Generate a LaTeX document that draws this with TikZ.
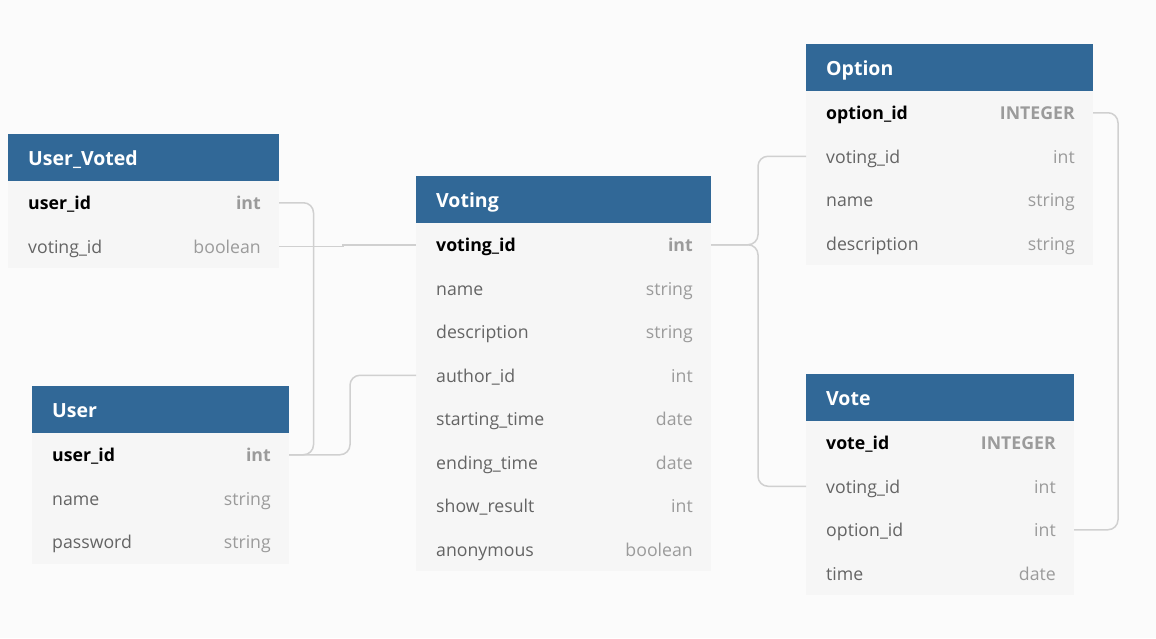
\documentclass[tikz,border=0pt]{standalone}
\usepackage{fontspec}
\setmainfont{Open Sans}
\usetikzlibrary{calc}
\definecolor{hdrblue}{RGB}{49,104,151}
\definecolor{rowbg}{RGB}{246,246,246}
\definecolor{canvas}{RGB}{251,251,251}
\definecolor{namegray}{RGB}{100,100,100}
\definecolor{typegray}{RGB}{155,155,155}
\definecolor{conngray}{RGB}{208,208,208}
\tikzset{
  hdrbox/.style={fill=hdrblue, minimum height=47pt, inner sep=0pt, outer sep=0pt},
  rowbox/.style={fill=rowbg, minimum height=43.5pt, inner sep=0pt, outer sep=0pt},
  hdrtext/.style={inner sep=0pt, text=white, font=\fontsize{19.5}{23}\selectfont\bfseries},
  pkname/.style={inner sep=0pt, text=black, font=\fontsize{17.7}{21}\selectfont\bfseries},
  pktype/.style={inner sep=0pt, text=typegray, font=\fontsize{17.7}{21}\selectfont\bfseries},
  fname/.style={inner sep=0pt, text=namegray, font=\fontsize{17.7}{21}\selectfont},
  ftype/.style={inner sep=0pt, text=typegray, font=\fontsize{17.7}{21}\selectfont},
  conn/.style={draw=conngray, line width=1.5pt, rounded corners=10pt}
}
\newcommand\ertable[5]{%
  \node[hdrbox, minimum width=#4pt, anchor=north west] (#1) at (#2,#3) {};
  \node[hdrtext, anchor=base west] (#1-title) at ($(#1.west)+(20,7.5)$) {#5};
}
\newcommand\errow[7]{%
  \node[rowbox, minimum width=#3pt, anchor=north west] (#1) at (#2.south west) {};
  \node[#6, anchor=base west] (#1-n) at ($(#1.west)+(20,7)$) {#4};
  \node[#7, anchor=base east] (#1-t) at ($(#1.east)+(-18,7)$) {#5};
}
\begin{document}
\begin{tikzpicture}[x=1pt,y=-1pt]
\useasboundingbox[fill=canvas] (0,0) rectangle (1156,638);

% User_Voted
\ertable{uv}{8}{134}{271}{User\_Voted}
\errow{uv1}{uv}{271}{user\_id}{int}{pkname}{pktype}
\errow{uv2}{uv1}{271}{voting\_id}{boolean}{fname}{ftype}

% User
\ertable{u}{32}{386}{257}{User}
\errow{u1}{u}{257}{user\_id}{int}{pkname}{pktype}
\errow{u2}{u1}{257}{name}{string}{fname}{ftype}
\errow{u3}{u2}{257}{password}{string}{fname}{ftype}

% Voting
\ertable{v}{416}{176}{295}{Voting}
\errow{v1}{v}{295}{voting\_id}{int}{pkname}{pktype}
\errow{v2}{v1}{295}{name}{string}{fname}{ftype}
\errow{v3}{v2}{295}{description}{string}{fname}{ftype}
\errow{v4}{v3}{295}{author\_id}{int}{fname}{ftype}
\errow{v5}{v4}{295}{starting\_time}{date}{fname}{ftype}
\errow{v6}{v5}{295}{ending\_time}{date}{fname}{ftype}
\errow{v7}{v6}{295}{show\_result}{int}{fname}{ftype}
\errow{v8}{v7}{295}{anonymous}{boolean}{fname}{ftype}

% Option
\ertable{o}{806}{44}{287}{Option}
\errow{o1}{o}{287}{option\_id}{INTEGER}{pkname}{pktype}
\errow{o2}{o1}{287}{voting\_id}{int}{fname}{ftype}
\errow{o3}{o2}{287}{name}{string}{fname}{ftype}
\errow{o4}{o3}{287}{description}{string}{fname}{ftype}

% Vote
\ertable{vt}{806}{374}{268}{Vote}
\errow{vt1}{vt}{268}{vote\_id}{INTEGER}{pkname}{pktype}
\errow{vt2}{vt1}{268}{voting\_id}{int}{fname}{ftype}
\errow{vt3}{vt2}{268}{option\_id}{int}{fname}{ftype}
\errow{vt4}{vt3}{268}{time}{date}{fname}{ftype}

% connectors
\draw[conn] (uv1.east) -- ++(34.5,0) |- (u1.east);
\draw[conn, rounded corners=0pt] (uv2.east) -- ++(64,0) |- (v1.west);
\draw[conn] (u1.east) -- ++(61,0) |- (v4.west);
\draw[conn] (v1.east) -- ++(47,0) |- (o2.west);
\draw[conn] (v1.east) -- ++(47,0) |- (vt2.west);
\draw[conn] (o1.east) -- ++(25,0) |- (vt3.east);
\end{tikzpicture}
\end{document}
